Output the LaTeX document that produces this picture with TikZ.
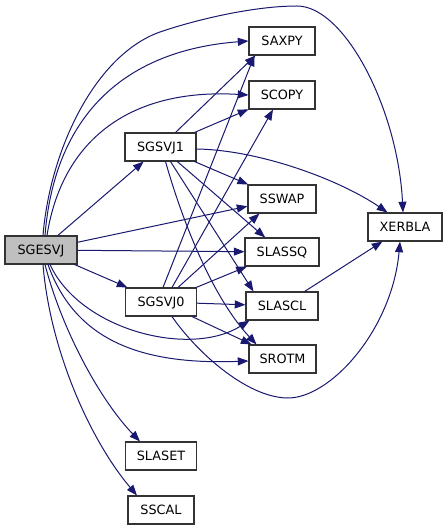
\documentclass[tikz,border=0pt]{standalone}
\usepackage{fontspec}
\setmainfont{DejaVu Sans}
\usetikzlibrary{arrows.meta,calc}
\definecolor{edgeblue}{HTML}{191970}
\definecolor{boxgrey}{HTML}{BFBFBF}
\begin{document}
\begin{tikzpicture}[x=0.75pt,y=-0.75pt,
  fn/.style={draw=black!80,line width=0.8pt,fill=white,inner sep=0pt,
    minimum height=21pt,text height=7.1pt,text depth=0pt,
    font=\fontsize{9.6}{11}\selectfont},
  bw/.style={minimum width=#1*0.75pt},
  cur/.style={fill=boxgrey},
  edge/.style={draw=edgeblue,line width=0.75pt,
    -{Triangle[length=8pt,width=6pt]}}]
\fill[white] (0,0) rectangle (448,530);
\useasboundingbox (0,0) rectangle (448,530);

\node[fn,cur,bw=72] (SGESVJ) at (41,250) {SGESVJ};
\node[fn,bw=71] (SGSVJ1) at (160.5,147) {SGSVJ1};
\node[fn,bw=71] (SGSVJ0) at (161,302) {SGSVJ0};
\node[fn,bw=71] (SLASET) at (161,456) {SLASET};
\node[fn,bw=66] (SSCAL) at (161,510) {SSCAL};
\node[fn,bw=66] (SAXPY) at (282,41) {SAXPY};
\node[fn,bw=66] (SCOPY) at (282,95) {SCOPY};
\node[fn,bw=68] (SSWAP) at (282,199) {SSWAP};
\node[fn,bw=74] (SLASSQ) at (282,252) {SLASSQ};
\node[fn,bw=72] (SLASCL) at (282,306) {SLASCL};
\node[fn,bw=67] (SROTM) at (282.5,359) {SROTM};
\node[fn,bw=74] (XERBLA) at (405,227) {XERBLA};

% SGESVJ
\draw[edge] ($(SGESVJ.north)+(2,0)$) .. controls (50,150) and (95,55) .. (160,32)
  .. controls (198,19) and (255,6) .. (297,6)
  .. controls (345,6) and (398,110) .. ($(XERBLA.north)+(-2,0)$);
\draw[edge] ($(SGESVJ.north)+(4,0)$) .. controls (55,110) and (130,50) .. (SAXPY.west);
\draw[edge] ($(SGESVJ.north)+(6,0)$) .. controls (62,140) and (130,88) .. (SCOPY.west);
\draw[edge] (SGESVJ) -- (SGSVJ1);
\draw[edge] (SGESVJ) -- (SSWAP);
\draw[edge] (SGESVJ) -- (SLASSQ);
\draw[edge] (SGESVJ) -- (SGSVJ0);
\draw[edge] ($(SGESVJ.south)+(9,0)$) .. controls (80,330) and (190,358) .. ($(SLASCL.south west)+(4,0)$);
\draw[edge] ($(SGESVJ.south)+(7,0)$) .. controls (75,340) and (140,365) .. ($(SROTM.west)+(0,2)$);
\draw[edge] ($(SGESVJ.south)+(4,0)$) .. controls (62,330) and (100,400) .. ($(SLASET.north)+(-21,0)$);
\draw[edge] ($(SGESVJ.south)+(2,0)$) .. controls (50,350) and (90,440) .. ($(SSCAL.north)+(-24,0)$);

% SGSVJ1
\draw[edge] ($(SGSVJ1.north)+(15,0)$) -- ($(SAXPY.south west)+(7,0)$);
\draw[edge] (SGSVJ1) -- (SCOPY);
\draw[edge] (SGSVJ1) -- (SSWAP);
\draw[edge] (SGSVJ1) -- (SLASSQ);
\draw[edge] ($(SGSVJ1.south)+(10,0)$) -- ($(SLASCL.north west)+(8,0)$);
\draw[edge] ($(SGSVJ1.south)+(5,0)$) .. controls (185,230) and (215,300) .. ($(SROTM.north west)+(8,0)$);
\draw[edge] ($(SGSVJ1.east)+(0,2)$) .. controls (260,150) and (340,180) .. ($(XERBLA.north west)+(20,0)$);

% SGSVJ0
\draw[edge] ($(SGSVJ0.north)+(2,0)$) -- ($(SAXPY.south west)+(6,0)$);
\draw[edge] ($(SGSVJ0.north)+(11,0)$) -- ($(SCOPY.south)+(-9,0)$);
\draw[edge] ($(SGSVJ0.north)+(17,0)$) -- ($(SSWAP.south west)+(12,0)$);
\draw[edge] (SGSVJ0) -- (SLASSQ);
\draw[edge] (SGSVJ0) -- (SLASCL);
\draw[edge] (SGSVJ0) -- (SROTM);
\draw[edge] ($(SGSVJ0.south)+(11,0)$) .. controls (195,350) and (245,397) .. (287,398)
  .. controls (330,399) and (392,330) .. ($(XERBLA.south)+(-5,0)$);

% SLASCL
\draw[edge] (SLASCL) -- (XERBLA);
\end{tikzpicture}
\end{document}
